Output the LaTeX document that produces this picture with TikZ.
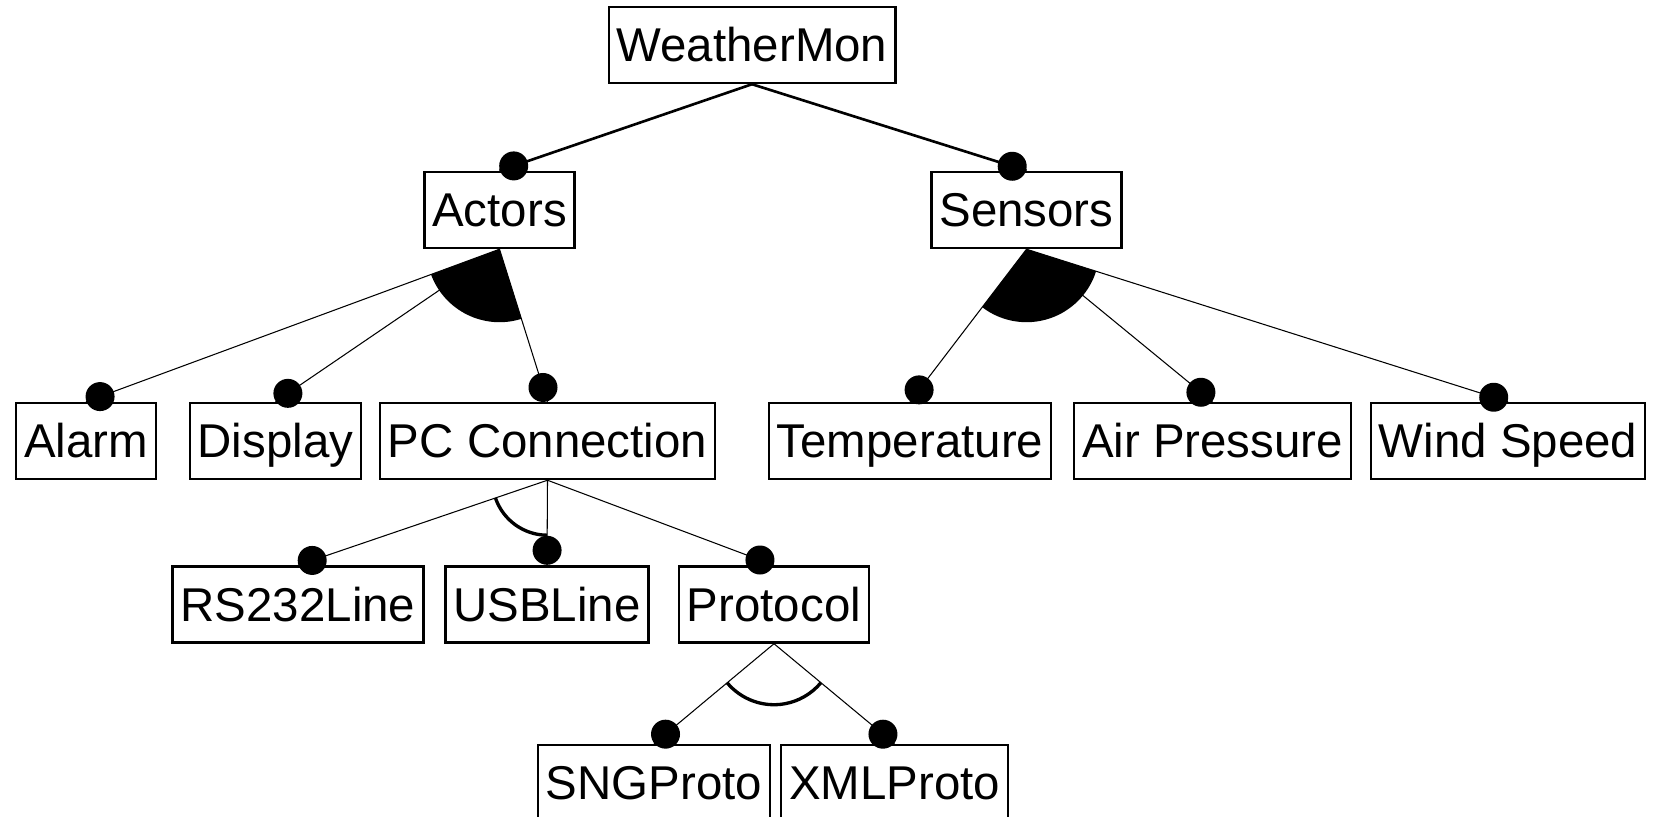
\documentclass[tikz,border=0pt]{standalone}
\usepackage{fontspec}
\setmainfont{Liberation Sans}
\usetikzlibrary{calc}

\begin{document}
\begin{tikzpicture}[
      x=0.02cm, y=0.02cm,
      feature/.style={draw, line width=1.4pt, minimum height=1.52cm, inner xsep=4.5pt,
                      text height=25pt, text depth=5.7pt,
                      font=\fontsize{27}{32}\selectfont, text=black},
      subedge/.style={line width=0.6pt},
      topedge/.style={line width=1.5pt},
      altarc/.style={line width=1.9pt}
    ]
      \useasboundingbox (0,0) rectangle (1653,816);
      % features, one row after the other
      \node[feature] (weathermon) at (752,771) {WeatherMon};
      \node[feature] (actors) at (499.5,606) {Actors};
      \node[feature] (sensors) at (1026.5,606) {Sensors};
      \node[feature] (alarm) at (86,375) {Alarm};
      \node[feature] (display) at (275.5,375) {Display};
      \node[feature] (pcconn) at (547.5,375) {PC Connection};
      \node[feature] (temp) at (910,375) {Temperature};
      \node[feature] (airpress) at (1212.5,375) {Air Pressure};
      \node[feature] (windspeed) at (1508,375) {Wind Speed};
      \node[feature] (rs232) at (298,211.5) {RS232Line};
      \node[feature] (usb) at (547,211.5) {USBLine};
      \node[feature] (protocol) at (774,211.5) {Protocol};
      \node[feature] (sng) at (654,33) {SNGProto};
      \node[feature] (xml) at (894.5,33) {XMLProto};
      % or-groups: filled sectors
      \foreach \gp/\ga/\gb in {actors/alarm/pcconn, sensors/temp/windspeed} {
        \fill let \p1=($(\ga.north)-(\gp.south)$), \p2=($(\gb.north)-(\gp.south)$),
                  \n1={atan2(\y1,\x1)}, \n2={atan2(\y2,\x2)} in
          (\gp.south) -- ++(\n1:1.46cm) arc[start angle=\n1, end angle=\n2, radius=1.46cm] -- cycle;
      }
      % alternative groups: open arcs
      \foreach \gp/\ga/\gb/\gr in {pcconn/rs232/usb/1.1cm, protocol/sng/xml/1.22cm} {
        \draw[altarc] let \p1=($(\ga.north)-(\gp.south)$), \p2=($(\gb.north)-(\gp.south)$),
                  \n1={atan2(\y1,\x1)}, \n2={atan2(\y2,\x2)} in
          ($(\gp.south)+(\n1:\gr)$) arc[start angle=\n1, end angle=\n2, radius=\gr];
      }
      % edges with a dot at the child end
      \foreach \p/\c/\s in {weathermon/actors/topedge, weathermon/sensors/topedge,
          actors/alarm/subedge, actors/display/subedge, actors/pcconn/subedge,
          sensors/temp/subedge, sensors/airpress/subedge, sensors/windspeed/subedge,
          pcconn/rs232/subedge, pcconn/usb/subedge, pcconn/protocol/subedge,
          protocol/sng/subedge, protocol/xml/subedge} {
        \draw[\s] (\p.south) -- (\c.north);
        \fill ($(\c.north)!0.3cm!(\p.south)$) circle (0.29cm);
      }
    \end{tikzpicture}
\end{document}
